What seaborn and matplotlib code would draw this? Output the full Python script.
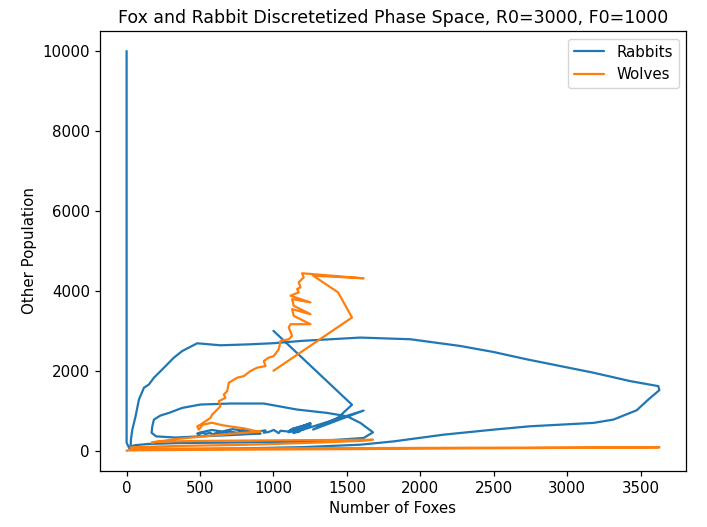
import matplotlib
matplotlib.use("Agg")
import matplotlib.pyplot as plt
import seaborn as sns

sns.set_style("ticks")
plt.rcParams["font.family"] = ["DejaVu Sans"]
plt.rcParams["axes.edgecolor"] = "black"
plt.rcParams["xtick.color"] = "black"
plt.rcParams["ytick.color"] = "black"
plt.rcParams["axes.labelcolor"] = "black"
plt.rcParams["text.color"] = "black"

# ── DATA ──────────────────────────────────────────────────────────────────────
# start jump + wolf spike at the top
foxes_start   = [1000, 1535, 1440, 1270, 1614, 1195]
rabbits_start = [3000, 1150, 830, 530, 1005, 520]
wolves_start  = [2000, 3333, 3962, 4380, 4314, 4440]

# noisy descent of the wolves
foxes_zig = [1206, 1172, 1184, 1161, 1172, 1116, 1252, 1127, 1138, 1252,
             1127, 1138, 1252, 1116, 1104, 1127, 1104, 1048, 1036, 1002,
             968, 934, 946, 889, 843, 798, 753, 696, 685, 662,
             673, 628, 639, 617, 583, 571, 537, 503, 481, 491]
rabbits_zig = [560, 470, 590, 460, 540, 480, 690, 530, 450, 670,
               550, 440, 640, 520, 460, 540, 480, 500, 440, 520,
               470, 450, 510, 480, 460, 510, 450, 480, 440, 490,
               460, 430, 470, 450, 410, 450, 420, 460, 430, 400]
wolves_zig = [4338, 4213, 4087, 4045, 3962, 3878, 3711, 3794, 3626, 3417,
              3543, 3374, 3166, 3166, 3083, 2872, 2789, 2746, 2538, 2369,
              2329, 2244, 2118, 2078, 1993, 1867, 1827, 1701, 1490, 1407,
              1324, 1239, 1113, 1030, 905, 822, 737, 653, 611, 528]

# small cluster, then the inner loop
foxes_loop = [520, 580, 650, 720, 800, 870, 912, 700, 500, 330, 200, 170,
              175, 186, 230, 288, 379, 503, 707, 934, 1161, 1365, 1501, 1592, 1678,
              1614, 1274, 821, 367, 150]
rabbits_loop = [470, 520, 480, 540, 500, 470, 430, 390, 360, 330, 360, 450,
                611, 779, 880, 946, 1072, 1156, 1181, 1181, 1030, 946, 862, 696, 460,
                319, 234, 209, 193, 170]
wolves_loop = [650, 700, 640, 600, 560, 500, 480, 420, 350, 290, 220, 200,
               210, 220, 228, 232, 238, 245, 252, 258, 264, 268, 271, 273, 275,
               250, 200, 150, 120, 100]

# big outer loop, then foxes die out
foxes_big = [60, 27, 30, 39, 61, 84, 118, 152, 186, 243, 322, 379, 481, 639, 843,
             1000, 1200, 1592, 1932, 2272, 2499, 2726, 2839, 3179, 3429, 3621, 3628,
             3553, 3474, 3315, 3179, 2748, 2499, 2159, 1819, 1592, 1200, 800, 400,
             100, 20, 0, 0, 0]
rabbits_big = [140, 108, 300, 528, 862, 1281, 1575, 1658, 1827, 2035, 2329, 2495, 2688,
               2638, 2663, 2690, 2750, 2831, 2789, 2621, 2470, 2286, 2203, 1952, 1742,
               1616, 1515, 1281, 1013, 779, 696, 612, 528, 402, 234, 151, 90, 60, 40,
               35, 50, 200, 3000, 10000]
wolves_big = [90, 80, 70, 60, 55, 52, 50, 50, 50, 50, 52, 53, 55, 57, 58,
              60, 62, 66, 70, 74, 76, 78, 80, 82, 84, 86, 85,
              83, 80, 77, 74, 66, 62, 55, 48, 42, 35, 28, 20,
              12, 8, 5, 2, 0]

foxes = foxes_start + foxes_zig + foxes_loop + foxes_big
rabbits = rabbits_start + rabbits_zig + rabbits_loop + rabbits_big
wolves = wolves_start + wolves_zig + wolves_loop + wolves_big

# ── PLOT ──────────────────────────────────────────────────────────────────────
fig = plt.figure(figsize=(7.07, 5.27), dpi=100)
ax = fig.add_axes([0.1414, 0.1068, 0.8289, 0.8343])

sns.lineplot(x=foxes, y=rabbits, sort=False, estimator=None, color="#1f77b4",
             linewidth=1.6, label="Rabbits", ax=ax)
sns.lineplot(x=foxes, y=wolves, sort=False, estimator=None, color="#ff7f0e",
             linewidth=1.6, label="Wolves", ax=ax)

ax.set_title("Fox and Rabbit Discretetized Phase Space, R0=3000, F0=1000", fontsize=12.5)
ax.set_xlabel("Number of Foxes", fontsize=10.8)
ax.set_ylabel("Other Population", fontsize=10.8)
ax.tick_params(labelsize=10.8, length=3.8, width=0.9)
for s in ax.spines.values():
    s.set_visible(True)
    s.set_linewidth(0.9)
ax.legend(loc="upper right", fontsize=10.8, frameon=True, edgecolor="0.8",
          fancybox=True, framealpha=0.8)

fig.savefig("out.png", dpi=100)
